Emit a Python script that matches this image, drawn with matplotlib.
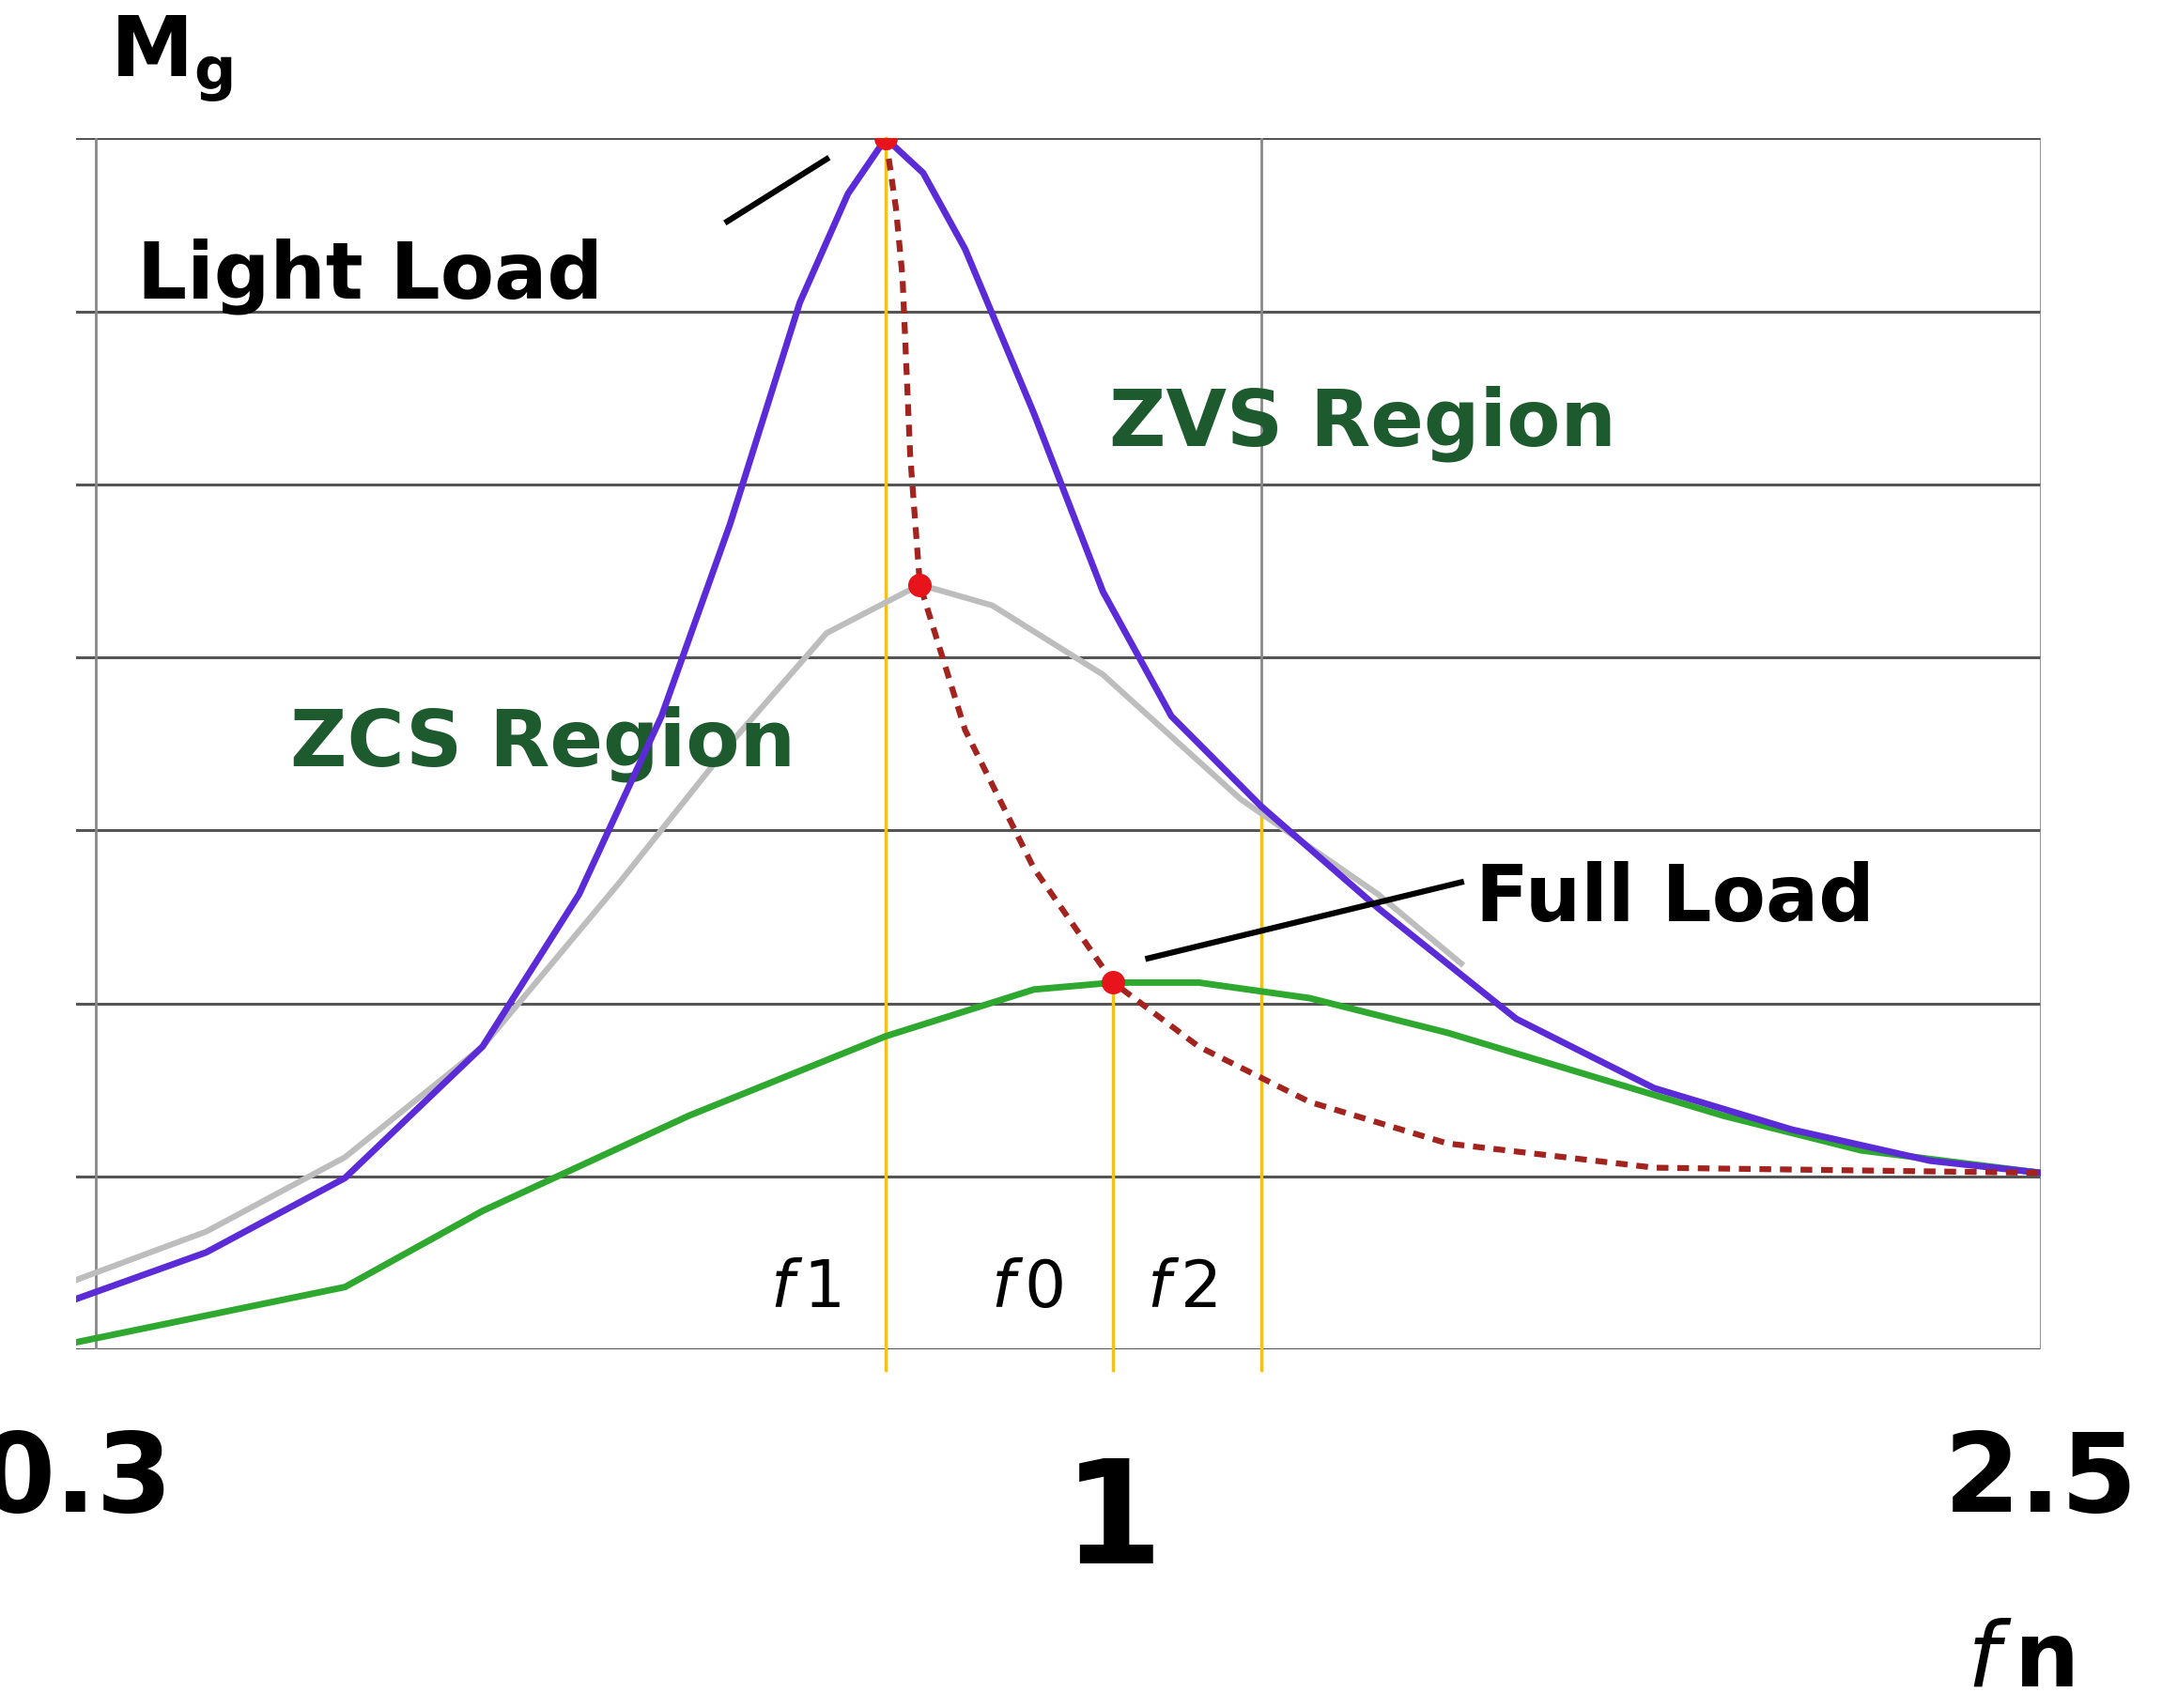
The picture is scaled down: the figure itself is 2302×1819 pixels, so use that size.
import numpy as np
import matplotlib
matplotlib.use("Agg")
import matplotlib.pyplot as plt

plt.rcParams.update({"font.family": ["DejaVu Sans"], "mathtext.fontset": "dejavusans"})

# ---------------------------------------------------------------- data
light_fn = [0.3, 0.349, 0.41, 0.481, 0.538, 0.592, 0.641, 0.695, 0.735, 0.768, 0.802,
            0.842, 0.912, 0.988, 1.059, 1.157, 1.299, 1.489, 1.706, 1.955, 2.241, 2.5]
light_mg = [0.29, 0.56, 0.99, 1.75, 2.63, 3.66, 4.77, 6.05, 6.68, 7.0, 6.8,
            6.36, 5.41, 4.38, 3.66, 3.14, 2.55, 1.91, 1.51, 1.27, 1.09, 1.02]
mid_fn = [0.3, 0.349, 0.41, 0.481, 0.564, 0.641, 0.717, 0.799, 0.869, 0.988, 1.134, 1.299, 1.41]
mid_mg = [0.40, 0.68, 1.11, 1.75, 2.70, 3.50, 4.14, 4.42, 4.30, 3.90, 3.18, 2.63, 2.23]
full_fn = [0.3, 0.41, 0.481, 0.611, 0.768, 0.912, 1.0, 1.088, 1.214, 1.391, 1.594, 1.827, 2.093, 2.5]
full_mg = [0.04, 0.36, 0.80, 1.35, 1.81, 2.08, 2.12, 2.12, 2.03, 1.83, 1.59, 1.35, 1.15, 1.02]
peak_fn = [0.768, 0.777, 0.783, 0.790, 0.799, 0.842, 0.912, 1.0, 1.088, 1.214, 1.391, 1.706, 2.5]
peak_mg = [7.0, 6.6, 6.2, 5.17, 4.42, 3.58, 2.78, 2.12, 1.75, 1.43, 1.19, 1.05, 1.02]
dots_fn = [0.768, 0.799, 1.0]
dots_mg = [7.0, 4.42, 2.12]
f_marks = [("f1", 0.768, 7.0), ("f0", 1.0, 2.12), ("f2", 1.157, 3.1)]
xticks = [0.3, 1, 2.5]

# piecewise log axis: 0.3..1 on left 52.8 %, 1..2.5 on the rest
SPLIT = 0.528
def fwd(x):
    x = np.clip(np.asarray(x, float), 1e-3, None)
    lo = (np.log(x) - np.log(0.3)) / (-np.log(0.3)) * SPLIT
    hi = SPLIT + np.log(x) / np.log(2.5) * (1 - SPLIT)
    return np.where(x <= 1, lo, hi)
def inv(p):
    p = np.asarray(p, float)
    lo = 0.3 * np.exp(p / SPLIT * (-np.log(0.3)))
    hi = np.exp((p - SPLIT) / (1 - SPLIT) * np.log(2.5))
    return np.where(p <= SPLIT, lo, hi)

fig = plt.figure(figsize=(23.02, 18.19), dpi=100)
ax = fig.add_axes([0.035, 0.210, 0.909, 0.709])
ax.set_xscale("function", functions=(fwd, inv))
ax.set_xlim(0.3, 2.5); ax.set_ylim(0, 7)
for s in ax.spines.values():
    s.set_visible(False)
ax.set_xticks([]); ax.set_yticks([])

for yv in range(8):
    ax.axhline(yv, color="#555555", lw=2.2, zorder=1)
for xv in [0.307, 1.157, 2.5]:
    ax.axvline(xv, color="#888888", lw=2.0, zorder=1)

yel = "#f2c21b"
for _, fx, top in f_marks:
    ax.plot([fx, fx], [-0.12, top], color=yel, lw=2.5, clip_on=False, zorder=2)

ax.plot(mid_fn, mid_mg, color="#bdbdbd", lw=4.5, zorder=3)
ax.plot(full_fn, full_mg, color="#2ea82e", lw=5, zorder=4)
ax.plot(light_fn, light_mg, color="#5a2bd6", lw=5, zorder=5)
ax.plot(peak_fn, peak_mg, color="#a3231f", lw=4.5, ls=(0, (2, 1.5)), zorder=6)
ax.plot(dots_fn, dots_mg, "o", color="#e8141b", ms=17, zorder=7)

green = "#1d5a2e"
kw = dict(fontsize=60, fontweight="bold")
ax.text(0.322, 6.2, "Light Load", ha="left", va="center", color="black", **kw)
ax.plot([0.639, 0.717], [6.52, 6.88], color="black", lw=4.5, zorder=8)
ax.text(0.995, 5.35, "ZVS Region", ha="left", va="center", color=green, **kw)
ax.text(0.385, 3.5, "ZCS Region", ha="left", va="center", color=green, **kw)
ax.text(1.43, 2.6, "Full Load", ha="left", va="center", color="black", **kw)
ax.plot([1.035, 1.41], [2.26, 2.7], color="black", lw=4.5, zorder=8)

for name, fx, _ in f_marks:
    xs = {"f1": 0.700, "f0": 0.905, "f2": 1.07}[name]
    ax.text(xs, 0.35, r"$\mathit{f}\,$" + name[1], fontsize=50, ha="center", va="center")

for v in xticks:
    ax.text(v, -0.45 if v != 1 else -0.6, f"{v:g}", ha="center", va="top",
            fontsize=84 if v != 1 else 110, fontweight="bold", clip_on=False)
ax.text(2.45, -1.55, r"$\mathit{f}\,$n", ha="center", va="top", fontsize=70,
        fontweight="bold", clip_on=False)
ax.text(0.312, 7.2, r"M$_\mathbf{g}$", ha="left", va="bottom", fontsize=64,
        fontweight="bold", clip_on=False)

fig.savefig("out.png", dpi=100)
